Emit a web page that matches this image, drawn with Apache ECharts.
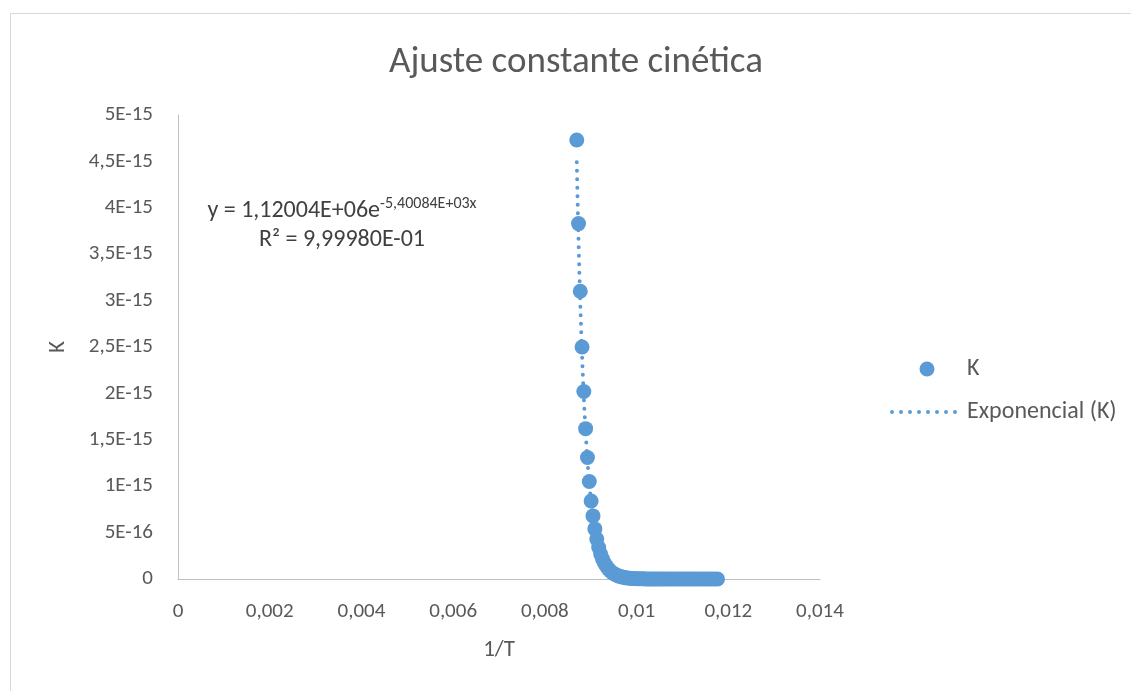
<!DOCTYPE html>
<html>
<head>
<meta charset="utf-8">
<script src="https://cdn.jsdelivr.net/npm/echarts@6/dist/echarts.min.js"></script>
<style>
  html, body { margin: 0; padding: 0; background: #ffffff; }
  #chart { width: 1131px; height: 691px; }
</style>
</head>
<body>
<div id="chart"></div>
<script>
// Rate constant K against inverse temperature 1/T
const invT = [
  0.008696, 0.008734, 0.008772, 0.008811, 0.008850, 0.008889, 0.008929, 0.008969,
  0.009009, 0.009050, 0.009091, 0.009132, 0.009174, 0.009217, 0.009259, 0.009302,
  0.009346, 0.009390, 0.009434, 0.009479, 0.009524, 0.009569, 0.009615, 0.009662,
  0.009709, 0.009756, 0.009804, 0.009852, 0.009901, 0.009950, 0.010000, 0.010050,
  0.010101, 0.010152, 0.010204, 0.010256, 0.010309, 0.010363, 0.010417, 0.010471,
  0.010526, 0.010582, 0.010638, 0.010695, 0.010753, 0.010811, 0.010870, 0.010929,
  0.010989, 0.011050, 0.011111, 0.011173, 0.011236, 0.011299, 0.011364, 0.011429,
  0.011494, 0.011561, 0.011628, 0.011696, 0.011765
];
const kValues = [
  4.73e-15, 3.83e-15, 3.10e-15, 2.50e-15, 2.02e-15, 1.62e-15, 1.31e-15, 1.05e-15,
  8.4e-16, 6.8e-16, 5.4e-16, 4.3e-16, 3.39e-16, 2.70e-16, 2.14e-16, 1.70e-16,
  1.34e-16, 1.06e-16, 8.34e-17, 6.55e-17, 5.14e-17, 4.02e-17, 3.13e-17, 2.44e-17,
  1.89e-17, 1.47e-17, 1.13e-17, 8.72e-18, 6.70e-18, 5.13e-18, 3.92e-18, 2.99e-18,
  2.27e-18, 1.72e-18, 1.30e-18, 9.83e-19, 7.38e-19, 5.53e-19, 4.13e-19, 3.08e-19,
  2.29e-19, 1.69e-19, 1.25e-19, 9.19e-20, 6.73e-20, 4.92e-20, 3.58e-20, 2.60e-20,
  1.88e-20, 1.35e-20, 9.72e-21, 6.95e-21, 4.95e-21, 3.51e-21, 2.48e-21, 1.75e-21,
  1.23e-21, 8.57e-22, 5.96e-22, 4.13e-22, 2.85e-22
];

// Exponential trendline coefficients, as printed on the chart
const trendA = 1.12004e6;
const trendB = -5.40084e3;

const xTickLabels = ['0', '0,002', '0,004', '0,006', '0,008', '0,01', '0,012', '0,014'];
const yTickLabels = ['0', '5E-16', '1E-15', '1,5E-15', '2E-15', '2,5E-15', '3E-15',
                     '3,5E-15', '4E-15', '4,5E-15', '5E-15'];

const FONT = "Carlito, Calibri, 'Noto Sans', sans-serif";
const BLUE = '#5b9bd5';
const GREY_TEXT = '#595959';

const points = invT.map((x, i) => [x, kValues[i]]);

// sample the fitted curve over the data range
const trend = [];
const x0 = invT[0], x1 = invT[invT.length - 1];
const steps = 300;
for (let i = 0; i <= steps; i++) {
  const x = x0 + (x1 - x0) * i / steps;
  trend.push([x, trendA * Math.exp(trendB * x)]);
}

const chart = echarts.init(document.getElementById('chart'), null, { renderer: 'canvas' });
chart.setOption({
  animation: false,
  backgroundColor: '#ffffff',
  textStyle: { fontFamily: FONT },
  title: {
    text: 'Ajuste constante cinética',
    left: 571,
    top: 39,
    textAlign: 'center',
    textStyle: { fontFamily: FONT, fontSize: 37, fontWeight: 'normal', color: GREY_TEXT }
  },
  graphic: [
    {
      type: 'rect',
      shape: { x: 10.5, y: 13.5, width: 1300, height: 900 },
      style: { fill: 'none', stroke: '#d9d9d9', lineWidth: 1 },
      silent: true, z: -1
    },
    {
      type: 'text',
      x: 342, y: 196,
      style: {
        text: '{n|y = 1,12004E+06e}{s|-5,40084E+03x}\n{n|R² = 9,99980E-01}',
        align: 'center',
        fill: '#404040',
        font: '24px ' + FONT,
        rich: {
          n: { fontFamily: FONT, fontSize: 24, lineHeight: 29, fill: '#404040' },
          s: { fontFamily: FONT, fontSize: 16, lineHeight: 17, verticalAlign: 'top', fill: '#404040' }
        }
      },
      silent: true
    }
  ],
  legend: {
    orient: 'vertical',
    left: 890,
    top: 357,
    padding: 0,
    itemWidth: 70,
    itemHeight: 15,
    itemGap: 19,
    textStyle: { fontFamily: FONT, fontSize: 24, color: GREY_TEXT },
    data: [
      { name: 'K', icon: 'circle', itemStyle: { opacity: 1 } },
      {
        name: 'Exponencial (K)',
        itemStyle: { opacity: 0 },
        lineStyle: { color: BLUE, width: 4, type: [0, 9], cap: 'round' }
      }
    ]
  },
  grid: { left: 178, right: 311, top: 115, bottom: 112, containLabel: false },
  xAxis: {
    type: 'value',
    min: 0, max: 0.014, interval: 0.002,
    name: '1/T',
    nameLocation: 'middle',
    nameGap: 60,
    nameTextStyle: { fontFamily: FONT, fontSize: 23, color: GREY_TEXT },
    axisLine: { lineStyle: { color: '#bfbfbf', width: 1 } },
    axisTick: { show: false },
    splitLine: { show: false },
    axisLabel: {
      fontFamily: FONT, fontSize: 21, color: GREY_TEXT, margin: 22,
      formatter: v => xTickLabels[Math.round(v / 0.002)]
    }
  },
  yAxis: {
    type: 'value',
    min: 0, max: 5e-15, interval: 5e-16,
    name: 'K',
    nameLocation: 'middle',
    nameRotate: 90,
    nameGap: 108,
    nameTextStyle: { fontFamily: FONT, fontSize: 23, color: GREY_TEXT },
    axisLine: { show: true, lineStyle: { color: '#bfbfbf', width: 1 } },
    axisTick: { show: false },
    splitLine: { show: false },
    axisLabel: {
      fontFamily: FONT, fontSize: 21, color: GREY_TEXT, margin: 25,
      formatter: v => yTickLabels[Math.round(v / 5e-16)]
    }
  },
  series: [
    {
      name: 'K',
      type: 'scatter',
      data: points,
      symbol: 'circle',
      symbolSize: 15,
      itemStyle: { color: BLUE, opacity: 1 },
      z: 2
    },
    {
      name: 'Exponencial (K)',
      type: 'line',
      data: trend,
      symbol: 'none',
      smooth: false,
      itemStyle: { color: BLUE },
      lineStyle: { color: BLUE, width: 4, type: [0, 8.5], cap: 'round' },
      z: 3
    }
  ]
});
</script>
</body>
</html>
